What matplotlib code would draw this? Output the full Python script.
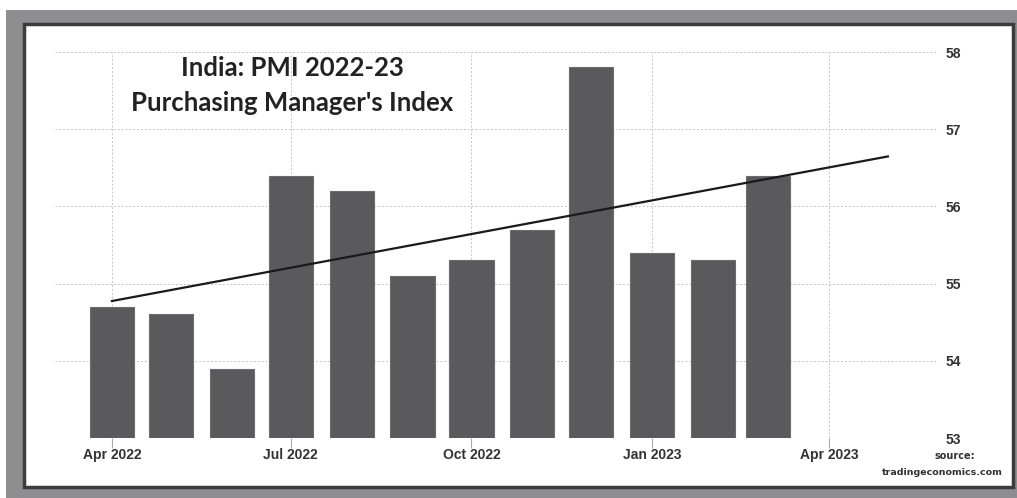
import numpy as np
import pandas as pd
import matplotlib
matplotlib.use('Agg')
import matplotlib.pyplot as plt
from matplotlib.patches import Rectangle

# India manufacturing PMI, Apr 2022 - Mar 2023
months = pd.date_range('2022-04-01', '2023-03-01', freq='MS')
pmi = [54.7, 54.6, 53.9, 56.4, 56.2, 55.1, 55.3, 55.7, 57.8, 55.4, 55.3, 56.4]
tick_dates = pd.to_datetime(['2022-04-01', '2022-07-01', '2022-10-01', '2023-01-01', '2023-04-01'])
tick_labels = ['Apr 2022', 'Jul 2022', 'Oct 2022', 'Jan 2023', 'Apr 2023']
y_ticks = [53, 54, 55, 56, 57, 58]

W, H = 1017, 498
fig = plt.figure(figsize=(W / 100, H / 100), dpi=100, facecolor='white')

# gray frame + white panel
fig.patches.append(Rectangle((6 / W, 0), 1 - 6 / W, 1 - 10 / H, transform=fig.transFigure,
                             facecolor='#8e8e90', edgecolor='none', zorder=-3))
fig.patches.append(Rectangle((23.5 / W, 11.5 / H), (1012.5 - 23.5) / W, (486.5 - 24) / H,
                             transform=fig.transFigure, facecolor='white',
                             edgecolor='#3c3c3c', linewidth=2.5, zorder=-2))

ax = fig.add_axes([55 / W, (H - 438) / H, (937 - 55) / W, (438 - 52) / H])
ax.set_facecolor('none')

ax.bar(months, [v - 53 for v in pmi], bottom=53, width=22.5,
       color='#5a5a5c', edgecolor='#6c6c6e', linewidth=0.8, zorder=3)

# linear trend over month index, extended one month
idx = np.arange(len(pmi))
slope, icpt = np.polyfit(idx, pmi, 1)
trend_x = pd.to_datetime(['2022-04-01', '2023-05-01'])
ax.plot(trend_x, [icpt, icpt + slope * 13], color='#1a1a1a', lw=1.6, zorder=4)

ax.set_xlim(pd.Timestamp('2022-03-03'), pd.Timestamp('2023-05-26'))
ax.set_ylim(53, 58)
ax.set_xticks(tick_dates)
ax.set_xticklabels(tick_labels)
ax.set_yticks(y_ticks)
ax.yaxis.tick_right()
ax.tick_params(axis='y', length=0, pad=6, labelsize=10, labelcolor='#333333')
ax.tick_params(axis='x', length=7, width=0.8, color='#aaaaaa', pad=0,
               labelsize=10, labelcolor='#333333')
for lab in ax.get_xticklabels() + ax.get_yticklabels():
    lab.set_fontweight('bold')
    lab.set_family('Liberation Sans')

ax.grid(True, color='#c4c4c4', linestyle=(0, (2, 2)), linewidth=0.7, zorder=0)
for s in ax.spines.values():
    s.set_visible(False)

fig.text(292 / W, 1 - 68 / H, 'India: PMI 2022-23', ha='center', va='center',
         fontsize=18.5, fontweight='bold', family='Lato', color='#222222')
fig.text(292 / W, 1 - 103 / H, "Purchasing Manager's Index", ha='center', va='center',
         fontsize=18.5, fontweight='bold', family='Lato', color='#222222')

fig.text(955 / W, 1 - 456 / H, 'source:', ha='center', va='center',
         fontsize=7, fontweight='bold', color='#333333')
fig.text(942 / W, 1 - 472 / H, 'tradingeconomics.com', ha='center', va='center',
         fontsize=6.8, fontweight='bold', color='#333333')

fig.savefig('out.png', dpi=100, facecolor=fig.get_facecolor())
